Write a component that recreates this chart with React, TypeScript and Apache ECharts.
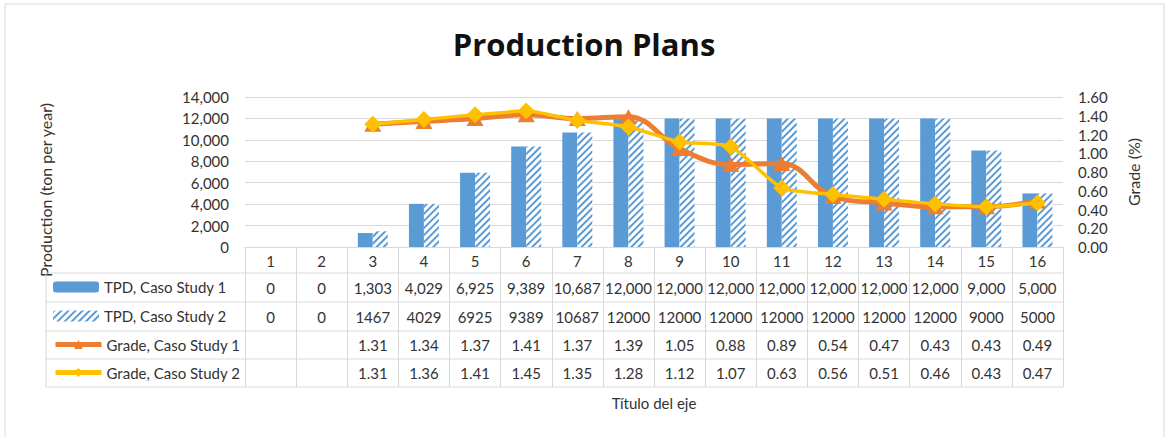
import React, { useEffect, useRef } from 'react';
import * as echarts from 'echarts';

const categories = ['1', '2', '3', '4', '5', '6', '7', '8', '9', '10', '11', '12', '13', '14', '15', '16'];
const tpd1 = [0, 0, 1303, 4029, 6925, 9389, 10687, 12000, 12000, 12000, 12000, 12000, 12000, 12000, 9000, 5000];
const tpd2 = [0, 0, 1467, 4029, 6925, 9389, 10687, 12000, 12000, 12000, 12000, 12000, 12000, 12000, 9000, 5000];
const grade1 = [null, null, 1.31, 1.34, 1.37, 1.41, 1.37, 1.39, 1.05, 0.88, 0.89, 0.54, 0.47, 0.43, 0.43, 0.49];
const grade2 = [null, null, 1.31, 1.36, 1.41, 1.45, 1.35, 1.28, 1.12, 1.07, 0.63, 0.56, 0.51, 0.46, 0.43, 0.47];
const seriesNames = ['TPD, Caso Study 1', 'TPD, Caso Study 2', 'Grade, Caso Study 1', 'Grade, Caso Study 2'];
const leftTicks = [0, 2000, 4000, 6000, 8000, 10000, 12000, 14000];
const rightTicks = [0, 0.2, 0.4, 0.6, 0.8, 1.0, 1.2, 1.4, 1.6];

const FONT = 'Lato';
const TXT = '#333333';
const GRIDC = '#D9D9D9';
const BLUE = '#5B9BD5';
const ORANGE = '#ED7D31';
const YELLOW = '#FFC000';

export default function App() {
  const ref = useRef<HTMLDivElement>(null);
  useEffect(() => {
    const chart = echarts.init(ref.current!, null, { renderer: 'svg' });
    const gridLeft = 245;
    const gridRight = 105;
    const gridTop = 97;
    const gridBottom = 190;
    const rowLines = [273, 302, 331, 359, 387];
    const decal = {
      symbol: 'rect',
      color: BLUE,
      backgroundColor: '#ffffff',
      dashArrayX: [1, 0],
      dashArrayY: [1.5, 3],
      rotation: -Math.PI / 4,
      symbolSize: 1,
    };
    const legends = seriesNames.map((n, i) => ({
      orient: 'horizontal',
      left: 53,
      top: (rowLines[i] + rowLines[i + 1]) / 2 - 8,
      padding: 0,
      itemWidth: 46,
      itemHeight: 11,
      data: [n],
      lineStyle: i >= 2 ? { width: 5 } : undefined,
      textStyle: { fontFamily: FONT, fontSize: 15, color: TXT },
    }));
    chart.setOption({
      animation: false,
      backgroundColor: '#ffffff',
      textStyle: { fontFamily: FONT },
      title: {
        text: 'Production Plans',
        left: 'center',
        top: 23,
        textStyle: { fontFamily: 'Open Sans', fontSize: 31, fontWeight: 'bold', color: '#111111' },
      },
      legend: legends,
      grid: { left: gridLeft, right: gridRight, top: gridTop, bottom: gridBottom },
      xAxis: {
        type: 'category',
        data: categories,
        name: 'Título del eje',
        nameLocation: 'middle',
        nameGap: 148,
        nameTextStyle: { fontFamily: FONT, fontSize: 15, color: TXT },
        axisLine: { lineStyle: { color: GRIDC } },
        axisTick: { show: true, length: 140, lineStyle: { color: GRIDC } },
        axisLabel: { margin: 6, fontFamily: FONT, fontSize: 15, color: TXT },
      },
      yAxis: [
        {
          type: 'value',
          min: leftTicks[0],
          max: leftTicks[leftTicks.length - 1],
          interval: 2000,
          axisLine: { show: false },
          axisTick: { show: false },
          axisLabel: {
            margin: 16,
            fontFamily: FONT,
            fontSize: 15,
            color: TXT,
            formatter: (v: number) => v.toLocaleString('en-US'),
          },
          splitLine: { lineStyle: { color: GRIDC } },
        },
        {
          type: 'value',
          min: rightTicks[0],
          max: rightTicks[rightTicks.length - 1],
          interval: 0.2,
          name: 'Grade (%)',
          nameLocation: 'middle',
          nameGap: 62,
          nameRotate: 90,
          nameTextStyle: { fontFamily: FONT, fontSize: 16, color: TXT },
          axisLine: { show: false },
          axisTick: { show: false },
          axisLabel: {
            margin: 15,
            fontFamily: FONT,
            fontSize: 15,
            color: TXT,
            formatter: (v: number) => v.toFixed(2),
          },
          splitLine: { show: false },
        },
      ],
      series: [
        {
          name: seriesNames[0],
          type: 'bar',
          data: tpd1,
          barWidth: 15,
          barGap: '0%',
          itemStyle: { color: BLUE },
        },
        {
          name: seriesNames[1],
          type: 'bar',
          data: tpd2,
          barWidth: 15,
          barGap: '0%',
          itemStyle: { color: '#ffffff', decal },
        },
        {
          name: seriesNames[2],
          type: 'line',
          yAxisIndex: 1,
          data: grade1,
          smooth: 0.4,
          symbol: 'triangle',
          symbolSize: [17, 15],
          itemStyle: { color: ORANGE },
          lineStyle: { color: ORANGE, width: 5 },
          z: 3,
        },
        {
          name: seriesNames[3],
          type: 'line',
          yAxisIndex: 1,
          data: grade2,
          smooth: 0.2,
          symbol: 'diamond',
          symbolSize: 17,
          itemStyle: { color: YELLOW },
          lineStyle: { color: YELLOW, width: 3.5 },
          z: 4,
        },
      ],
    });

    const tableLeft = 46;
    const tableRight = 1168 - gridRight;
    const rows: string[][] = [
      tpd1.map((v) => v.toLocaleString('en-US')),
      tpd2.map((v) => String(v)),
      grade1.map((v) => (v == null ? '' : v.toFixed(2))),
      grade2.map((v) => (v == null ? '' : v.toFixed(2))),
    ];
    const elements: any[] = [
      {
        type: 'rect',
        silent: true,
        shape: { x: 5, y: 4, width: 1159, height: 460 },
        style: { fill: 'none', stroke: GRIDC, lineWidth: 1 },
      },
      {
        type: 'text',
        x: 45,
        y: 190,
        rotation: Math.PI / 2,
        style: {
          text: 'Production (ton per year)',
          align: 'center',
          verticalAlign: 'middle',
          fontFamily: FONT,
          fontSize: 16,
          fill: TXT,
        },
      },
      {
        type: 'line',
        shape: { x1: tableLeft, y1: rowLines[0], x2: tableLeft, y2: rowLines[rowLines.length - 1] },
        style: { stroke: GRIDC, lineWidth: 1 },
      },
    ];
    rowLines.forEach((y) => {
      elements.push({
        type: 'line',
        shape: { x1: tableLeft, y1: y, x2: tableRight, y2: y },
        style: { stroke: GRIDC, lineWidth: 1 },
      });
    });
    rows.forEach((row, ri) => {
      const cy = (rowLines[ri] + rowLines[ri + 1]) / 2;
      row.forEach((t, i) => {
        const x = chart.convertToPixel({ xAxisIndex: 0 }, i) as number;
        elements.push({
          type: 'text',
          x,
          y: cy,
          style: {
            text: t,
            align: 'center',
            verticalAlign: 'middle',
            fontFamily: FONT,
            fontSize: 15,
            fill: TXT,
          },
        });
      });
    });
    chart.setOption({ graphic: elements });
    return () => chart.dispose();
  }, []);
  return <div ref={ref} style={{ position: 'absolute', left: 0, top: 0, width: 1168, height: 437 }} />;
}
